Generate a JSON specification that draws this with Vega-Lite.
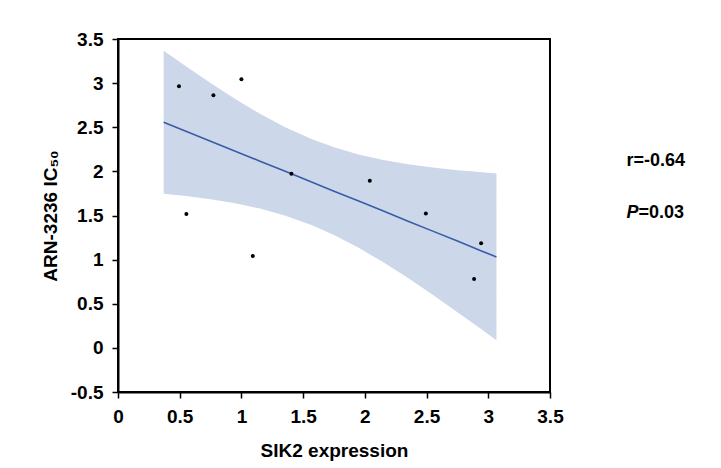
{
  "$schema": "https://vega.github.io/schema/vega-lite/v6.json",
  "autosize": {"type": "none"},
  "padding": {"left": 118, "top": 39, "right": 171, "bottom": 76},
  "width": 432,
  "height": 353,
  "background": "white",
  "config": {
    "view": {"stroke": "black", "strokeWidth": 2},
    "font": "Liberation Sans",
    "axis": {
      "grid": false,
      "domainColor": "black",
      "domainWidth": 2,
      "tickColor": "black",
      "tickWidth": 1.5,
      "tickSize": 6,
      "labelFont": "Liberation Sans",
      "labelFontWeight": "bold",
      "labelFontSize": 19,
      "labelColor": "black",
      "titleFont": "Liberation Sans",
      "titleFontWeight": "bold",
      "titleFontSize": 19,
      "titleColor": "black"
    }
  },
  "datasets": {
    "points": [
      {"x": 0.494, "y": 2.966},
      {"x": 0.773, "y": 2.864},
      {"x": 1.0, "y": 3.045},
      {"x": 0.554, "y": 1.516},
      {"x": 1.092, "y": 1.042},
      {"x": 1.405, "y": 1.974},
      {"x": 2.04, "y": 1.894},
      {"x": 2.494, "y": 1.523},
      {"x": 2.942, "y": 1.186},
      {"x": 2.885, "y": 0.781}
    ],
    "band": [
      {"x": 0.37, "fit": 2.557, "lo": 1.746, "hi": 3.368},
      {"x": 0.55, "fit": 2.456, "lo": 1.72, "hi": 3.191},
      {"x": 0.75, "fit": 2.342, "lo": 1.684, "hi": 3.001},
      {"x": 0.95, "fit": 2.229, "lo": 1.638, "hi": 2.82},
      {"x": 1.15, "fit": 2.116, "lo": 1.579, "hi": 2.653},
      {"x": 1.35, "fit": 2.003, "lo": 1.501, "hi": 2.504},
      {"x": 1.568, "fit": 1.879, "lo": 1.392, "hi": 2.366},
      {"x": 1.75, "fit": 1.776, "lo": 1.279, "hi": 2.273},
      {"x": 1.95, "fit": 1.663, "lo": 1.134, "hi": 2.192},
      {"x": 2.15, "fit": 1.55, "lo": 0.969, "hi": 2.13},
      {"x": 2.35, "fit": 1.436, "lo": 0.791, "hi": 2.082},
      {"x": 2.55, "fit": 1.323, "lo": 0.602, "hi": 2.044},
      {"x": 2.75, "fit": 1.21, "lo": 0.405, "hi": 2.014},
      {"x": 2.95, "fit": 1.096, "lo": 0.204, "hi": 1.989},
      {"x": 3.066, "fit": 1.031, "lo": 0.085, "hi": 1.977}
    ],
    "annotR": [{"x": 4.12, "y": 2.12, "label": "r=-0.64"}],
    "annotP": [{"x": 4.12, "y": 1.525, "label": "P"}],
    "annotV": [{"x": 4.12, "y": 1.525, "label": "=0.03"}]
  },
  "layer": [
    {
      "data": {"name": "band"},
      "mark": {"type": "area", "color": "#cdd7ea", "opacity": 1},
      "encoding": {
        "x": {"field": "x", "type": "quantitative", "scale": {"domain": [0, 3.5], "nice": false, "zero": false},
          "axis": {"values": [0, 0.5, 1, 1.5, 2, 2.5, 3, 3.5], "labelPadding": 9, "titlePadding": 15, "labelFlush": false, "labelExpr": "datum.value"},
          "title": "SIK2 expression"},
        "y": {"field": "lo", "type": "quantitative", "scale": {"domain": [-0.5, 3.5], "nice": false, "zero": false},
          "axis": {"values": [-0.5, 0, 0.5, 1, 1.5, 2, 2.5, 3, 3.5], "labelPadding": 9, "titlePadding": 10, "labelFlush": false, "labelExpr": "datum.value"},
          "title": "ARN-3236 IC₅₀"},
        "y2": {"field": "hi"}
      }
    },
    {
      "data": {"name": "band"},
      "mark": {"type": "line", "color": "#3a5ba8", "strokeWidth": 1.6},
      "encoding": {
        "x": {"field": "x", "type": "quantitative"},
        "y": {"field": "fit", "type": "quantitative"}
      }
    },
    {
      "data": {"name": "points"},
      "mark": {"type": "point", "filled": true, "color": "black", "size": 16, "opacity": 1},
      "encoding": {
        "x": {"field": "x", "type": "quantitative"},
        "y": {"field": "y", "type": "quantitative"}
      }
    },
    {
      "data": {"name": "annotR"},
      "mark": {"type": "text", "align": "left", "baseline": "middle", "fontSize": 18, "fontWeight": "bold", "font": "Liberation Sans", "color": "black", "clip": false},
      "encoding": {
        "x": {"field": "x", "type": "quantitative"},
        "y": {"field": "y", "type": "quantitative"},
        "text": {"field": "label"}
      }
    },
    {
      "data": {"name": "annotP"},
      "mark": {"type": "text", "align": "left", "baseline": "middle", "fontSize": 18, "fontWeight": "bold", "fontStyle": "italic", "font": "Liberation Sans", "color": "black", "clip": false},
      "encoding": {
        "x": {"field": "x", "type": "quantitative"},
        "y": {"field": "y", "type": "quantitative"},
        "text": {"field": "label"}
      }
    },
    {
      "data": {"name": "annotV"},
      "mark": {"type": "text", "align": "left", "baseline": "middle", "dx": 12, "fontSize": 18, "fontWeight": "bold", "font": "Liberation Sans", "color": "black", "clip": false},
      "encoding": {
        "x": {"field": "x", "type": "quantitative"},
        "y": {"field": "y", "type": "quantitative"},
        "text": {"field": "label"}
      }
    }
  ]
}
